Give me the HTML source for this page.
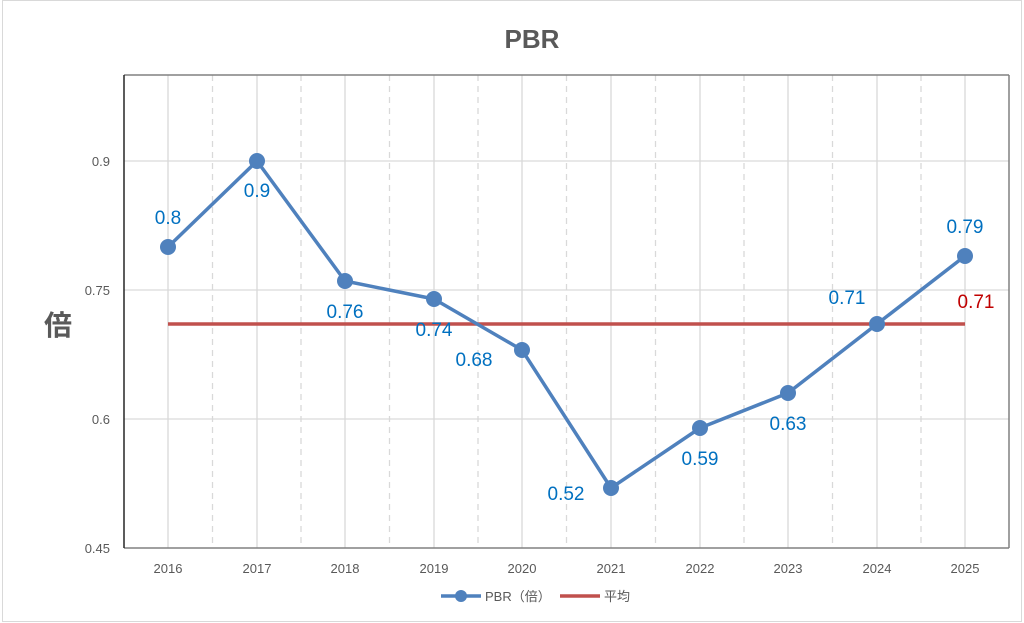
<!DOCTYPE html>
<html><head><meta charset="utf-8"><style>
html,body{margin:0;padding:0;background:#fff}
svg{display:block;font-family:"Liberation Sans","Noto Sans CJK JP",sans-serif}
</style></head><body>
<svg width="1024" height="623" viewBox="0 0 1024 623" xmlns="http://www.w3.org/2000/svg">
<rect x="2.5" y="0.5" width="1019" height="621" fill="#fff" stroke="#d9d9d9"/>
<text x="532" y="48" text-anchor="middle" font-size="26" font-weight="bold" fill="#595959">PBR</text>
<g stroke="#d9d9d9" stroke-width="1.3">
<line x1="124" y1="161" x2="1009" y2="161"/>
<line x1="124" y1="290" x2="1009" y2="290"/>
<line x1="124" y1="419" x2="1009" y2="419"/>
</g>
<g stroke="#d9d9d9" stroke-width="1.3">
<line x1="168" y1="75" x2="168" y2="548"/><line x1="257" y1="75" x2="257" y2="548"/><line x1="345" y1="75" x2="345" y2="548"/><line x1="434" y1="75" x2="434" y2="548"/><line x1="522" y1="75" x2="522" y2="548"/><line x1="611" y1="75" x2="611" y2="548"/><line x1="700" y1="75" x2="700" y2="548"/><line x1="788" y1="75" x2="788" y2="548"/><line x1="877" y1="75" x2="877" y2="548"/><line x1="965" y1="75" x2="965" y2="548"/>
</g>
<g stroke="#d9d9d9" stroke-width="1.3" stroke-dasharray="6,5">
<line x1="212.5" y1="75" x2="212.5" y2="548"/><line x1="301" y1="75" x2="301" y2="548"/><line x1="389.5" y1="75" x2="389.5" y2="548"/><line x1="478" y1="75" x2="478" y2="548"/><line x1="566.5" y1="75" x2="566.5" y2="548"/><line x1="655.5" y1="75" x2="655.5" y2="548"/><line x1="744" y1="75" x2="744" y2="548"/><line x1="832.5" y1="75" x2="832.5" y2="548"/><line x1="921" y1="75" x2="921" y2="548"/>
</g>
<line x1="124" y1="75" x2="1009" y2="75" stroke="#808080" stroke-width="1.5"/>
<line x1="1009" y1="75" x2="1009" y2="548" stroke="#808080" stroke-width="1.5"/>
<line x1="124" y1="548" x2="1009" y2="548" stroke="#808080" stroke-width="1.5"/>
<line x1="124" y1="75" x2="124" y2="548" stroke="#262626" stroke-width="1.5"/>
<g font-size="13" fill="#595959" text-anchor="end">
<text x="110" y="166">0.9</text><text x="110" y="295">0.75</text><text x="110" y="424">0.6</text><text x="110" y="553">0.45</text>
</g>
<g font-size="13" fill="#595959" text-anchor="middle">
<text x="168" y="573">2016</text><text x="257" y="573">2017</text><text x="345" y="573">2018</text><text x="434" y="573">2019</text><text x="522" y="573">2020</text><text x="611" y="573">2021</text><text x="700" y="573">2022</text><text x="788" y="573">2023</text><text x="877" y="573">2024</text><text x="965" y="573">2025</text>
</g>
<text x="58" y="335" text-anchor="middle" font-size="28" font-weight="bold" fill="#595959">倍</text>
<line x1="168" y1="324" x2="965" y2="324" stroke="#c0504d" stroke-width="3.5"/>
<polyline fill="none" stroke="#4f81bd" stroke-width="3.5" stroke-linejoin="round" points="168,247 257,161 345,281 434,299 522,350 611,488 700,428 788,393 877,324 965,256"/>
<g fill="#4f81bd">
<circle cx="168" cy="247" r="8"/><circle cx="257" cy="161" r="8"/><circle cx="345" cy="281" r="8"/><circle cx="434" cy="299" r="8"/><circle cx="522" cy="350" r="8"/><circle cx="611" cy="488" r="8"/><circle cx="700" cy="428" r="8"/><circle cx="788" cy="393" r="8"/><circle cx="877" cy="324" r="8"/><circle cx="965" cy="256" r="8"/>
</g>
<g font-size="19" fill="#0070c0" text-anchor="middle">
<text x="168" y="224">0.8</text><text x="257" y="197">0.9</text><text x="345" y="318">0.76</text><text x="434" y="336">0.74</text><text x="474" y="366">0.68</text><text x="566" y="500">0.52</text><text x="700" y="465">0.59</text><text x="788" y="430">0.63</text><text x="847" y="304">0.71</text><text x="965" y="233">0.79</text>
</g>
<text x="976" y="308" text-anchor="middle" font-size="19" fill="#c00000">0.71</text>
<line x1="441" y1="596" x2="481" y2="596" stroke="#4f81bd" stroke-width="3.5"/>
<circle cx="461" cy="596" r="6" fill="#4f81bd"/>
<text x="485" y="601" font-size="13" fill="#595959">PBR（倍）</text>
<line x1="560" y1="596" x2="600" y2="596" stroke="#c0504d" stroke-width="3.5"/>
<text x="604" y="601" font-size="13" fill="#595959">平均</text>
</svg>
</body></html>
